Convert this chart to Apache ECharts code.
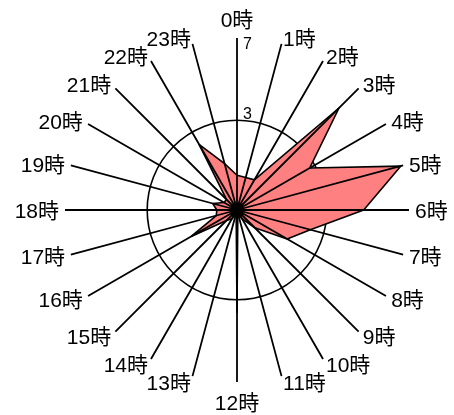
<!DOCTYPE html>
<html>
<head>
<meta charset="utf-8">
<script src="https://cdn.jsdelivr.net/npm/echarts@6/dist/echarts.min.js"></script>
<style>
html,body{margin:0;padding:0;background:#fff;}
#c{width:454px;height:415px;}
</style>
</head>
<body>
<div id="c"></div>
<script>
const hours = ['0時','1時','2時','3時','4時','5時','6時','7時','8時','9時','10時','11時',
  '12時','13時','14時','15時','16時','17時','18時','19時','20時','21時','22時','23時'];
const values = [1.53, 1.51, 1.53, 5.84, 2.79, 7.97, 4.71, 2.53, 2.03, 1.36, 1.13, 1.04,
  3.51, 1.04, 1.13, 1.2, 1.91, 1.3, 1.28, 1.36, 1.2, 1.2, 2.53, 1.8];
const axisMin = 1;
const axisMax = 8.2;
const ringTicks = [3];
const tickLabels = [3, 7];

const FONT = '"Liberation Sans", Arial, "Noto Sans CJK JP", sans-serif';
const chart = echarts.init(document.getElementById('c'));

// close the polygon by repeating the first hour at angle 24
const seriesData = values.map((v, i) => [v, i]).concat([[values[0], hours.length]]);
// radar lays indicators out counter-clockwise; list them so hours run clockwise
const nameOrder = hours.map((_, i) => hours[(hours.length - i) % hours.length]);

chart.setOption({
  animation: false,
  polar: { center: [237, 210], radius: 172 },
  angleAxis: {
    type: 'value',
    min: 0,
    max: hours.length,
    interval: 1,
    startAngle: 90,
    clockwise: true,
    z: 5,
    axisLine: { show: false },
    axisTick: { show: false },
    axisLabel: { show: false },
    splitLine: { show: true, lineStyle: { color: '#000', width: 1.8 } }
  },
  radiusAxis: {
    type: 'log',
    logBase: 3,
    min: axisMin,
    max: axisMax,
    z: 0,
    axisLine: { show: false },
    axisTick: { show: false, customValues: ringTicks },
    axisLabel: {
      show: true, customValues: tickLabels, color: '#000', fontSize: 16, lineHeight: 12,
      fontFamily: FONT, verticalAlign: 'bottom', align: 'left', margin: -6,
      formatter: v => String(Math.round(v))
    },
    splitLine: { show: true, lineStyle: { color: '#000', width: 1.6 } }
  },
  radar: {
    center: [237, 212.5],
    radius: 172,
    startAngle: 90,
    shape: 'circle',
    z: 6,
    indicator: nameOrder.map(h => ({ name: h, min: 0, max: 1 })),
    axisName: { color: '#000', fontSize: 21, fontFamily: FONT, lineHeight: 27 },
    axisNameGap: 6,
    axisLine: { show: false },
    axisTick: { show: false },
    axisLabel: { show: false },
    splitArea: { show: false },
    splitLine: { show: false }
  },
  series: [{
    type: 'line',
    coordinateSystem: 'polar',
    symbol: 'none',
    z: 2,
    lineStyle: { color: '#000', width: 1.6 },
    areaStyle: { color: '#ff8080', opacity: 1 },
    data: seriesData
  }]
});
</script>
</body>
</html>
